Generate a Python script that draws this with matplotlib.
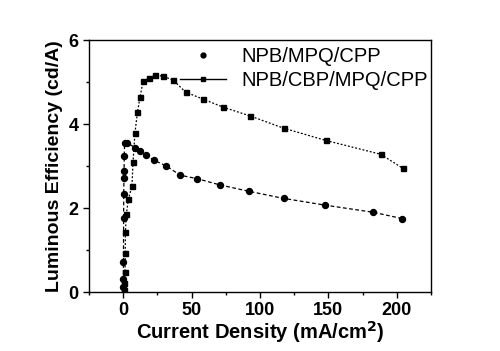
import matplotlib
matplotlib.use("Agg")
import matplotlib.pyplot as plt
from matplotlib.lines import Line2D
from matplotlib.ticker import MultipleLocator

plt.rcParams['font.family'] = ['Liberation Sans', 'DejaVu Sans']

# NPB/MPQ/CPP (circles)
x_mpq = [0.05, 0.1, 0.2, 0.3, 0.4, 0.5, 0.6, 0.8, 1.0, 2.6, 8.8, 12.0, 16.8, 22.3, 31.0,
         41.8, 53.9, 70.7, 91.6, 117.2, 147.3, 182.6, 203.8]
y_mpq = [0.13, 0.31, 0.72, 1.76, 2.33, 2.71, 2.87, 3.25, 3.56, 3.55, 3.44, 3.36, 3.27, 3.14, 3.01,
         2.78, 2.70, 2.55, 2.40, 2.23, 2.07, 1.90, 1.75]

# NPB/CBP/MPQ/CPP (squares)
x_cbp = [0.36, 0.9, 1.3, 1.5, 1.6, 2.3, 3.8, 6.4, 7.2, 8.6, 10.4, 12.3, 14.5, 18.8, 23.2,
         28.8, 36.4, 45.6, 58.6, 73.2, 92.9, 117.4, 148.0, 188.2, 204.2]
y_cbp = [0.05, 0.21, 0.47, 0.94, 1.42, 1.85, 2.21, 2.52, 3.10, 3.79, 4.28, 4.64, 5.02, 5.09, 5.17,
         5.14, 5.05, 4.76, 4.59, 4.40, 4.19, 3.90, 3.61, 3.28, 2.95]

labels = ["NPB/MPQ/CPP", "NPB/CBP/MPQ/CPP"]
x_ticks = [0, 50, 100, 150, 200]
y_ticks = [0, 2, 4, 6]

fig = plt.figure(figsize=(5.0, 3.51), dpi=100)
ax = fig.add_axes([0.178, 0.168, 0.684, 0.718])

ax.plot(x_mpq, y_mpq, color='black', lw=0.9, ls=(0, (3, 2)), marker='o', ms=4.3,
        mec='black', mfc='black')
ax.plot(x_cbp, y_cbp, color='black', lw=0.9, ls=(0, (1.5, 1.5)), marker='s', ms=3.6,
        mec='black', mfc='black')

ax.set_xlim(-25, 225)
ax.set_ylim(0, 6)
ax.set_xticks(x_ticks)
ax.set_yticks(y_ticks)
ax.xaxis.set_minor_locator(MultipleLocator(25))
ax.yaxis.set_minor_locator(MultipleLocator(1))
ax.tick_params(which='major', direction='out', length=4, width=1, top=False, right=False)
ax.tick_params(which='minor', direction='out', length=2.5, width=1, top=False, right=False)
for lab in ax.get_xticklabels() + ax.get_yticklabels():
    lab.set_fontweight('bold')
    lab.set_fontsize(13)
for s in ax.spines.values():
    s.set_linewidth(1)

ax.set_xlabel("Current Density (mA/cm$^\\mathbf{2}$)", fontsize=14.5, fontweight='bold', labelpad=0)
ax.set_ylabel("Luminous Efficiency (cd/A)", fontsize=14, fontweight='bold', labelpad=4)

h1 = Line2D([], [], color='black', ls='none', marker='o', ms=3.5)
h2 = Line2D([], [], color='black', ls='-', lw=1, marker='s', ms=3.2)
leg = ax.legend([h1, h2], labels, loc='upper left', bbox_to_anchor=(0.266, 0.972),
                frameon=False, fontsize=14.5, handlelength=2.3, handletextpad=0.75,
                labelspacing=0.25, borderaxespad=0, borderpad=0)

fig.savefig("out.png", dpi=100)
